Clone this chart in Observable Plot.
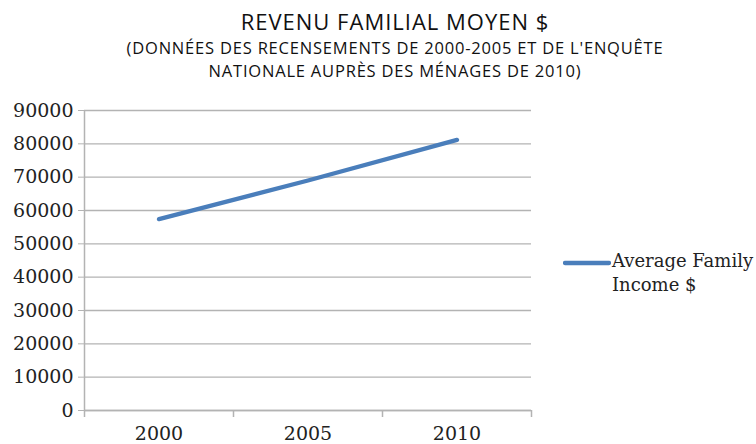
<!DOCTYPE html>
<html>
<head>
<meta charset="utf-8">
<script src="https://cdn.jsdelivr.net/npm/d3@7"></script>
<script src="https://cdn.jsdelivr.net/npm/@observablehq/plot@0.6"></script>
<style>
  body { margin: 0; background: #fff; }
  #wrap { position: relative; width: 756px; height: 444px; overflow: hidden; }
  #title { position: absolute; left: 0; width: 790px; top: 7px; text-align: center; font-family: "Open Sans", Lato, sans-serif; color: #111; }
  #title .t { font-size: 22px; line-height: 28px; letter-spacing: 1px; }
  #title .s { font-size: 16.5px; line-height: 23px; margin-top: 1px; letter-spacing: 0.8px; }
  #chart { position: absolute; left: 0; top: 90px; }
  #legend { position: absolute; left: 563px; top: 249px; font-family: "DejaVu Serif", serif; font-size: 18px; line-height: 24px; color: #222; }
  #legend svg { position: absolute; left: 0; top: 11px; }
  #legend .lbl { position: absolute; left: 49px; top: 0; white-space: nowrap; }
</style>
</head>
<body>
<div id="wrap">
  <div id="title">
    <div class="t">REVENU FAMILIAL MOYEN $</div>
    <div class="s">(DONNÉES DES RECENSEMENTS DE 2000-2005 ET DE L'ENQUÊTE<br>NATIONALE AUPRÈS DES MÉNAGES DE 2010)</div>
  </div>
  <div id="chart"></div>
  <div id="legend"></div>
</div>
<script>
const years = [2000, 2005, 2010];
const incomes = [57400, 69000, 81200];
const yTicks = [0, 10000, 20000, 30000, 40000, 50000, 60000, 70000, 80000, 90000];
const seriesName = "Average Family Income $";
const lineColor = "#4a7ebb";
const gridColor = "#b3b3b3";

const data = years.map((y, i) => ({year: y, income: incomes[i]}));
const step = years[1] - years[0];
const bounds = [years[0] - step / 2, ...years.map(y => y + step / 2)];
const xMin = bounds[0], xMax = bounds[bounds.length - 1];

const chart = Plot.plot({
  width: 756,
  height: 354,
  marginTop: 20,
  marginBottom: 34,
  marginLeft: 84,
  marginRight: 225,
  style: { fontFamily: "'DejaVu Serif', serif", fontSize: "18px", color: "#222", background: "transparent", overflow: "visible" },
  x: { type: "linear", domain: [xMin, xMax], axis: null },
  y: { type: "linear", domain: [0, 90000], axis: null },
  marks: [
    Plot.ruleY(yTicks, { x1: () => xMin, x2: () => xMax, stroke: gridColor, strokeWidth: 1.3 }),
    Plot.ruleX([xMin], { y1: 0, y2: 90000, stroke: gridColor, strokeWidth: 1.5 }),
    Plot.ruleY([0], { x1: () => xMin, x2: () => xMax, stroke: gridColor, strokeWidth: 1.5 }),
    Plot.axisX({ ticks: bounds, tickSize: 7, tickFormat: () => "", stroke: gridColor, strokeWidth: 1.5, label: null }),
    Plot.axisX({ ticks: years, tickSize: 0, tickPadding: 16, tickFormat: d => String(d), fontSize: 19, label: null }),
    Plot.axisY({ ticks: yTicks, tickSize: 6, tickPadding: 5, tickFormat: d => String(d), stroke: gridColor, fontSize: 19, label: null }),
    Plot.line(data, { x: "year", y: "income", stroke: lineColor, strokeWidth: 4.3, strokeLinecap: "round" })
  ]
});
document.getElementById("chart").appendChild(chart);

const legend = document.getElementById("legend");
legend.innerHTML = `<svg width="48" height="6"><line x1="2" y1="3" x2="46" y2="3" stroke="${lineColor}" stroke-width="4.3" stroke-linecap="round"/></svg><div class="lbl">Average Family<br>Income $</div>`;
</script>
</body>
</html>
